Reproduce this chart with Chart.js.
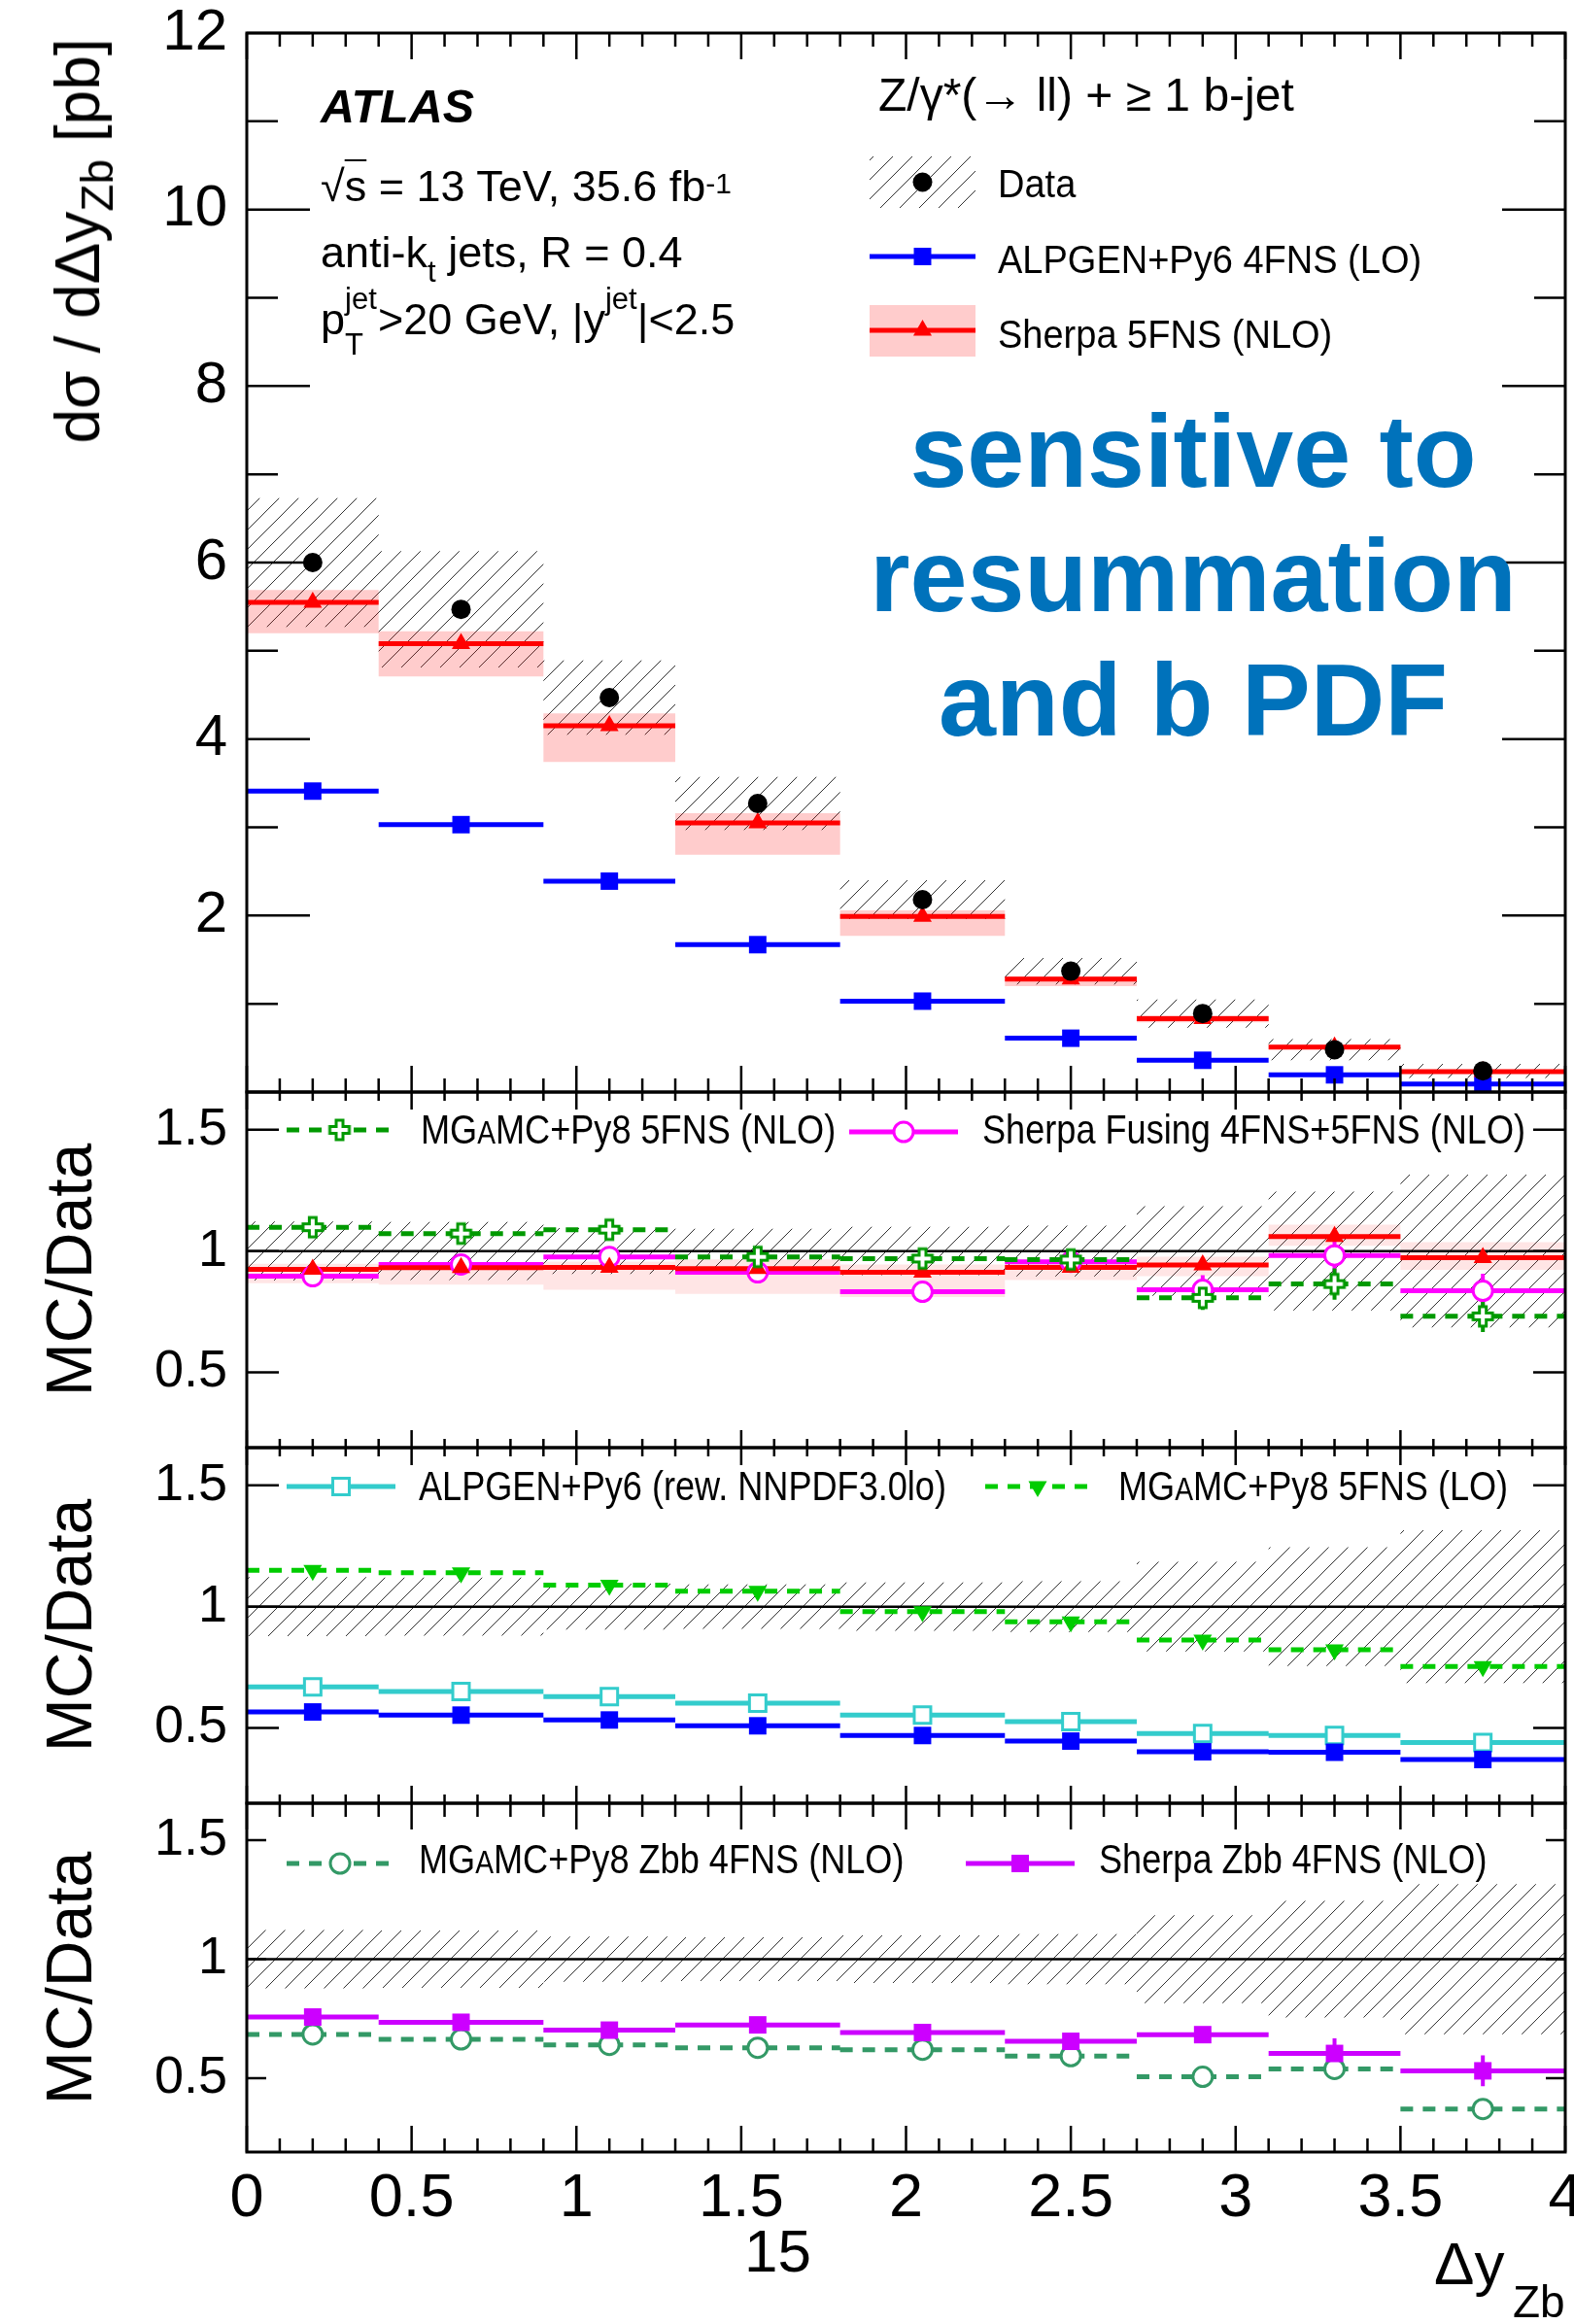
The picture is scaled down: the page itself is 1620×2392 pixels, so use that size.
<!DOCTYPE html>
<html>
<head>
<meta charset="utf-8">
<title>Z/γ* + ≥1 b-jet: dσ/dΔy(Z,b)</title>
<script src="https://cdn.jsdelivr.net/npm/chart.js@4.4.1/dist/chart.umd.min.js"></script>
<style>
  html, body { margin:0; padding:0; background:#fff; overflow:hidden; }
  #page { position:relative; width:1620px; height:2392px; overflow:hidden; background:#fff;
          font-family:"Liberation Sans", Arial, Helvetica, sans-serif; }
  #page canvas { position:absolute; left:0; top:0; }
  .t { position:absolute; white-space:nowrap; line-height:1; color:#000; z-index:5; }
</style>
</head>
<body>
<div id="page">
  <canvas id="pMain" width="1660" height="2392"></canvas>
  <canvas id="pR1" width="1660" height="2392"></canvas>
  <canvas id="pR2" width="1660" height="2392"></canvas>
  <canvas id="pR3" width="1660" height="2392"></canvas>
</div>
<script>
// ---------------- data ----------------
// Δy(Z,b) bin edges
const binEdges = [0, 0.4, 0.9, 1.3, 1.8, 2.3, 2.7, 3.1, 3.5, 4.0];
const xTickValues = [0, 0.5, 1, 1.5, 2, 2.5, 3, 3.5, 4];
const xTickLabels = ['0', '0.5', '1', '1.5', '2', '2.5', '3', '3.5', '4'];
const mainYTicks = [2, 4, 6, 8, 10, 12];
const ratioYTicks = [0.5, 1, 1.5];

// cross sections [pb]
const dataXsec     = [6.00, 5.47, 4.47, 3.27, 2.18, 1.37, 0.89, 0.48, 0.24];
const dataErr      = [0.73, 0.66, 0.42, 0.30, 0.22, 0.15, 0.16, 0.12, 0.08];
const alpgenXsec   = [3.41, 3.03, 2.39, 1.67, 1.03, 0.61, 0.36, 0.195, 0.09];
const sherpaXsec   = [5.55, 5.08, 4.15, 3.05, 1.99, 1.28, 0.83, 0.51, 0.23];
const sherpaXsecLo = [5.20, 4.71, 3.74, 2.69, 1.77, 1.20, 0.79, 0.49, 0.215];
const sherpaXsecHi = [5.69, 5.22, 4.29, 3.16, 2.06, 1.31, 0.87, 0.535, 0.245];

// relative data uncertainty (ratio panels)
const dataRelErr   = [0.122, 0.12, 0.095, 0.092, 0.10, 0.105, 0.185, 0.245, 0.315];

// MC / Data, panel 1
const sherpaRatio    = [0.925, 0.932, 0.933, 0.928, 0.912, 0.933, 0.943, 1.06, 0.973];
const sherpaRatioLo  = [0.867, 0.861, 0.84, 0.823, 0.81, 0.88, 0.896, 1.022, 0.923];
const sherpaRatioHi  = [0.948, 0.954, 0.957, 0.966, 0.945, 0.96, 0.977, 1.109, 1.037];
const mgNloRatio     = [1.098, 1.072, 1.088, 0.976, 0.969, 0.965, 0.807, 0.864, 0.731];
const mgNloRatioErr  = [0, 0, 0, 0, 0, 0, 0.05, 0.065, 0.065];
const fusingRatio    = [0.896, 0.945, 0.976, 0.912, 0.832, 0.956, 0.84, 0.982, 0.836];
const fusingRatioErr = [0, 0, 0.04, 0, 0, 0, 0.06, 0.08, 0.07];

// MC / Data, panel 2
const alpgenRewRatio = [0.669, 0.65, 0.629, 0.602, 0.553, 0.526, 0.477, 0.469, 0.44];
const mgLoRatio      = [1.15, 1.14, 1.089, 1.064, 0.98, 0.938, 0.862, 0.822, 0.753];
const alpgenRatio    = [0.566, 0.553, 0.533, 0.509, 0.469, 0.446, 0.402, 0.40, 0.37];

// MC / Data, panel 3
const mgZbbRatio     = [0.684, 0.663, 0.64, 0.628, 0.62, 0.593, 0.506, 0.539, 0.371];
const sherpaZbbRatio = [0.757, 0.735, 0.702, 0.724, 0.692, 0.655, 0.683, 0.604, 0.531];
const sherpaZbbErr   = [0, 0, 0, 0, 0, 0, 0, 0.063, 0.065];

// ---------------- helpers ----------------
const FONT = 'Liberation Sans';
Chart.defaults.font.family = FONT;
const W = 1660, H = 2392;
const X0 = 254, X1 = 1611;
const XAXIS_H = 70;

const centers = binEdges.slice(0, -1).map((e, i) => (e + binEdges[i + 1]) / 2);

// one horizontal segment per bin, unconnected
function segs(vals) {
  const pts = [];
  vals.forEach((v, i) => {
    pts.push({x: binEdges[i], y: v}, {x: binEdges[i + 1], y: v});
    if (i < vals.length - 1) pts.push({x: binEdges[i + 1], y: null});
  });
  return pts;
}
// contiguous step outline used for filled bands
function steps(vals) {
  const pts = [];
  vals.forEach((v, i) => pts.push({x: binEdges[i], y: v}, {x: binEdges[i + 1], y: v}));
  return pts;
}
function atCenters(vals) { return vals.map((v, i) => ({x: centers[i], y: v})); }
function vbars(vals, errs) {
  const pts = [];
  vals.forEach((v, i) => {
    if (errs[i] > 0) pts.push({x: centers[i], y: v - errs[i]}, {x: centers[i], y: v + errs[i]}, {x: centers[i], y: null});
  });
  return pts;
}

function makeHatch() {
  const c = document.createElement('canvas'); c.width = 20; c.height = 20;
  const g = c.getContext('2d');
  g.strokeStyle = '#333'; g.lineWidth = 1;
  [[-5, 25, 25, -5], [-5, 5, 5, -5], [15, 25, 25, 15]].forEach(([a, b, cc, d]) => {
    g.beginPath(); g.moveTo(a, b); g.lineTo(cc, d); g.stroke();
  });
  return g.createPattern(c, 'repeat');
}
function openCross(color) {
  const s = 20, a = 7, o = 3, m = (s - a) / 2;
  const c = document.createElement('canvas'); c.width = c.height = s + 2 * o;
  const g = c.getContext('2d');
  g.beginPath();
  g.moveTo(o + m, o); g.lineTo(o + m + a, o); g.lineTo(o + m + a, o + m); g.lineTo(o + s, o + m);
  g.lineTo(o + s, o + m + a); g.lineTo(o + m + a, o + m + a); g.lineTo(o + m + a, o + s); g.lineTo(o + m, o + s);
  g.lineTo(o + m, o + m + a); g.lineTo(o, o + m + a); g.lineTo(o, o + m); g.lineTo(o + m, o + m); g.closePath();
  g.fillStyle = '#fff'; g.fill(); g.strokeStyle = color; g.lineWidth = 3; g.stroke();
  return c;
}
const hatch = makeHatch();

// series styles
const S = {
  data:      {color:'#000', width:0, pointStyle:'circle', radius:10, pointBg:'#000', pointBorder:'#000', pointBW:0},
  alpgen:    {color:'#0000ff', width:5, pointStyle:'rect', radius:12.7, pointBg:'#0000ff', pointBorder:'#0000ff', pointBW:0},
  sherpa:    {color:'#ff0000', width:5, pointStyle:'triangle', radius:11, pointBg:'#ff0000', pointBorder:'#ff0000', pointBW:0},
  fusing:    {color:'#ff00ff', width:5, pointStyle:'circle', radius:10, pointBg:'#ffffff', pointBorder:'#ff00ff', pointBW:3},
  mgNlo:     {color:'#009900', width:5, dash:[13, 10], pointStyle:openCross('#009900'), radius:10, pointBg:'#fff', pointBorder:'#009900', pointBW:0},
  mgLo:      {color:'#00cc00', width:5, dash:[13, 10], pointStyle:'triangle', rotation:180, radius:11, pointBg:'#00cc00', pointBorder:'#00cc00', pointBW:0},
  alpRew:    {color:'#33cccc', width:5, pointStyle:'rect', radius:12, pointBg:'#ffffff', pointBorder:'#33cccc', pointBW:3},
  sherpaZbb: {color:'#cc00ff', width:5, pointStyle:'rect', radius:12.7, pointBg:'#cc00ff', pointBorder:'#cc00ff', pointBW:0},
  mgZbb:     {color:'#339966', width:5, dash:[13, 10], pointStyle:'circle', radius:10, pointBg:'#ffffff', pointBorder:'#339966', pointBW:3}
};

function lineDS(points, st, order, extra) {
  return Object.assign({
    data: points, borderColor: st.color, borderWidth: st.width, borderDash: st.dash || [],
    borderCapStyle: 'butt', pointRadius: 0, fill: false, spanGaps: false, tension: 0, order
  }, extra || {});
}
function markerDS(points, st, order) {
  return {
    data: points, showLine: false, pointStyle: st.pointStyle, pointRadius: st.radius,
    pointRotation: st.rotation || 0, pointBackgroundColor: st.pointBg,
    pointBorderColor: st.pointBorder, pointBorderWidth: st.pointBW, order
  };
}
function bandDS(upper, lower, bg, order) {
  return [
    {data: upper, borderWidth: 0, borderColor: 'rgba(0,0,0,0)', pointRadius: 0, fill: '+1', backgroundColor: bg, tension: 0, order},
    {data: lower, borderWidth: 0, borderColor: 'rgba(0,0,0,0)', pointRadius: 0, fill: false, tension: 0, order: order + 1}
  ];
}
function unityDS() {
  return {data: [{x: 0, y: 1}, {x: 4, y: 1}], borderColor: '#000', borderWidth: 2.5, pointRadius: 0, fill: false, order: 15};
}

function drawMarker(ctx, st, x, y) {
  ctx.save();
  ctx.fillStyle = st.pointBg; ctx.strokeStyle = st.pointBorder; ctx.lineWidth = st.pointBW || 1;
  Chart.helpers.drawPoint(ctx, {pointStyle: st.pointStyle, radius: st.radius, rotation: st.rotation || 0, borderWidth: st.pointBW}, x, y);
  ctx.restore();
}
function legendLine(ctx, st, x1, x2, y) {
  ctx.save();
  ctx.strokeStyle = st.color; ctx.lineWidth = st.width; ctx.setLineDash(st.dash || []);
  ctx.beginPath(); ctx.moveTo(x1, y); ctx.lineTo(x2, y); ctx.stroke();
  ctx.restore();
  drawMarker(ctx, st, (x1 + x2) / 2, y);
}

// frame, inward ticks on all four sides, plus legend symbols
function framePlugin(cfg) {
  return {
    id: 'frame_' + cfg.name,
    afterDatasetsDraw(chart) {
      const {ctx, chartArea: a, scales: {x, y}} = chart;
      ctx.save();
      ctx.strokeStyle = '#000'; ctx.lineWidth = 2.5; ctx.lineCap = 'butt'; ctx.setLineDash([]);
      ctx.beginPath();
      for (let k = 0; k <= 40; k++) {
        const px = x.getPixelForValue(k / 10);
        const L = (k % 5 === 0) ? cfg.xMaj : cfg.xMin;
        ctx.moveTo(px, a.top); ctx.lineTo(px, a.top + L);
        ctx.moveTo(px, a.bottom); ctx.lineTo(px, a.bottom - L);
      }
      const yt = (vals, L) => vals.forEach(v => {
        const py = y.getPixelForValue(v);
        ctx.moveTo(a.left, py); ctx.lineTo(a.left + L, py);
        ctx.moveTo(a.right, py); ctx.lineTo(a.right - L, py);
      });
      yt(cfg.yMajor, cfg.yMajLen);
      if (cfg.yMinor) yt(cfg.yMinor, cfg.yMinLen);
      ctx.stroke();
      ctx.lineWidth = 3;
      ctx.strokeRect(a.left, a.top, a.right - a.left, a.bottom - a.top);
      if (cfg.legend) cfg.legend(ctx);
      ctx.restore();
    }
  };
}

function panel(canvasId, top, bottom, yMin, yMax, yTicks, yLabelSize, datasets, cfg, showX) {
  const xScale = {
    type: 'linear', min: 0, max: 4, display: showX,
    grid: {display: false}, border: {display: false},
    afterBuildTicks: s => { s.ticks = xTickValues.map(v => ({value: v})); },
    ticks: {font: {family: FONT, size: 63}, color: '#000', padding: 3, maxRotation: 0, autoSkip: false,
            callback: (v, i) => xTickLabels[i]}
  };
  if (showX) xScale.afterFit = s => { s.height = XAXIS_H; s.paddingLeft = 0; s.paddingRight = 0; };
  return new Chart(document.getElementById(canvasId), {
    type: 'line',
    data: {datasets},
    options: {
      responsive: false, animation: false, events: [],
      layout: {padding: {top, bottom: H - bottom - (showX ? XAXIS_H : 0), left: 0, right: W - X1}},
      plugins: {legend: {display: false}, tooltip: {enabled: false}},
      scales: {
        x: xScale,
        y: {
          type: 'linear', min: yMin, max: yMax,
          grid: {display: false}, border: {display: false},
          afterBuildTicks: s => { s.ticks = yTicks.map(v => ({value: v})); },
          ticks: {font: {family: FONT, size: yLabelSize}, color: '#000', padding: 12, callback: v => String(v)},
          afterFit: s => { s.width = X0; s.paddingTop = 0; s.paddingBottom = 0; }
        }
      }
    },
    plugins: [framePlugin(cfg)]
  });
}

// ---------------- main panel: dσ/dΔy ----------------
panel('pMain', 34, 1124, 0, 12, mainYTicks, 60, [
  ...bandDS(steps(dataXsec.map((v, i) => v + dataErr[i])), steps(dataXsec.map((v, i) => v - dataErr[i])), hatch, 20),
  ...bandDS(steps(sherpaXsecHi), steps(sherpaXsecLo), 'rgba(255,0,0,0.2)', 17),
  lineDS(segs(alpgenXsec), S.alpgen, 6),
  lineDS(segs(sherpaXsec), S.sherpa, 5),
  markerDS(atCenters(alpgenXsec), S.alpgen, 3),
  markerDS(atCenters(sherpaXsec), S.sherpa, 2),
  markerDS(atCenters(dataXsec), S.data, 1)
], {
  name: 'main', xMaj: 27, xMin: 14, yMajor: [0, 2, 4, 6, 8, 10, 12], yMajLen: 65, yMinor: [1, 3, 5, 7, 9, 11], yMinLen: 32,
  legend: ctx => {
    ctx.fillStyle = hatch; ctx.fillRect(895, 161, 109, 53);
    drawMarker(ctx, S.data, 949.5, 187.5);
    legendLine(ctx, S.alpgen, 895, 1004, 264);
    ctx.fillStyle = 'rgba(255,0,0,0.2)'; ctx.fillRect(895, 314, 109, 53);
    legendLine(ctx, S.sherpa, 895, 1004, 340);
  }
}, false);

// ---------------- ratio panel 1 ----------------
const RMIN = 0.19, RMAX = 1.655;
panel('pR1', 1124, 1490, RMIN, RMAX, ratioYTicks, 54, [
  ...bandDS(steps(dataRelErr.map(e => 1 + e)), steps(dataRelErr.map(e => 1 - e)), hatch, 20),
  ...bandDS(steps(sherpaRatioHi), steps(sherpaRatioLo), 'rgba(255,0,0,0.1)', 17),
  unityDS(),
  lineDS(segs(fusingRatio), S.fusing, 9),
  lineDS(segs(sherpaRatio), S.sherpa, 8),
  lineDS(segs(mgNloRatio), S.mgNlo, 7),
  lineDS(vbars(fusingRatio, fusingRatioErr), Object.assign({}, S.fusing, {width: 4}), 6),
  lineDS(vbars(mgNloRatio, mgNloRatioErr), Object.assign({}, S.mgNlo, {width: 4}), 5),
  markerDS(atCenters(fusingRatio), S.fusing, 4),
  markerDS(atCenters(sherpaRatio), S.sherpa, 3),
  markerDS(atCenters(mgNloRatio), S.mgNlo, 2)
], {
  name: 'r1', xMaj: 18, xMin: 9, yMajor: [0.5, 1, 1.5], yMajLen: 33,
  legend: ctx => {
    legendLine(ctx, S.mgNlo, 295, 404, 1163);
    legendLine(ctx, S.fusing, 874, 986, 1165);
  }
}, false);

// ---------------- ratio panel 2 ----------------
panel('pR2', 1490, 1856, RMIN, RMAX, ratioYTicks, 54, [
  ...bandDS(steps(dataRelErr.map(e => 1 + e)), steps(dataRelErr.map(e => 1 - e)), hatch, 20),
  unityDS(),
  lineDS(segs(mgLoRatio), S.mgLo, 9),
  lineDS(segs(alpgenRewRatio), S.alpRew, 8),
  lineDS(segs(alpgenRatio), S.alpgen, 7),
  markerDS(atCenters(mgLoRatio), S.mgLo, 4),
  markerDS(atCenters(alpgenRewRatio), S.alpRew, 3),
  markerDS(atCenters(alpgenRatio), S.alpgen, 2)
], {
  name: 'r2', xMaj: 18, xMin: 9, yMajor: [0.5, 1, 1.5], yMajLen: 33,
  legend: ctx => {
    legendLine(ctx, S.alpRew, 295, 407, 1530);
    legendLine(ctx, S.mgLo, 1014, 1122, 1530);
  }
}, false);

// ---------------- ratio panel 3 ----------------
panel('pR3', 1856, 2215, RMIN, RMAX, ratioYTicks, 54, [
  ...bandDS(steps(dataRelErr.map(e => 1 + e)), steps(dataRelErr.map(e => 1 - e)), hatch, 20),
  unityDS(),
  lineDS(segs(mgZbbRatio), S.mgZbb, 9),
  lineDS(segs(sherpaZbbRatio), S.sherpaZbb, 8),
  lineDS(vbars(sherpaZbbRatio, sherpaZbbErr), Object.assign({}, S.sherpaZbb, {width: 4}), 6),
  markerDS(atCenters(mgZbbRatio), S.mgZbb, 4),
  markerDS(atCenters(sherpaZbbRatio), S.sherpaZbb, 3)
], {
  name: 'r3', xMaj: 27, xMin: 14, yMajor: [0.5, 1, 1.5], yMajLen: 20,
  legend: ctx => {
    legendLine(ctx, S.mgZbb, 295, 405, 1918);
    legendLine(ctx, S.sherpaZbb, 994, 1106, 1918);
  }
}, true);

// ---------------- text ----------------
const page = document.getElementById('page');
function txt(html, x, baseline, size, style) {
  const d = document.createElement('div');
  d.className = 't';
  d.innerHTML = html;
  d.style.left = x + 'px';
  d.style.top = (baseline - 0.8465 * size) + 'px';
  d.style.fontSize = size + 'px';
  if (style) Object.assign(d.style, style);
  page.appendChild(d);
  return d;
}
// shifted script: rise > 0 raises, < 0 lowers
const scr = (s, rise, fs, w) =>
  `<span style="display:inline-block;position:relative;top:${-rise}px;font-size:${fs}px;${w !== undefined ? 'width:' + w + 'px;' : ''}">${s}</span>`;
const cond = k => ({transform: `scaleX(${k})`, transformOrigin: '0 0'});
const MGA = 'MG<span style="font-size:0.78em">A</span>MC';

txt('<b><i>ATLAS</i></b>', 330, 126, 48.5);
txt('√<span style="text-decoration:overline;text-decoration-thickness:2px">s</span> = 13 TeV, 35.6 fb' + scr('-1', 8, 30), 330, 207, 45);
txt('anti-k' + scr('t', -15, 31) + ' jets, R = 0.4', 330, 275, 45);
txt('p' + scr('jet', 26, 31, 0) + scr('T', -21, 31, 34) + '&gt;20 GeV, |y' + scr('jet', 26, 31) + '|&lt;2.5', 330, 344, 45);

txt('Z/γ*(→ ll) + ≥ 1 b-jet', 904, 115, 48);
txt('Data', 1027, 203, 40, cond(0.95));
txt('ALPGEN+Py6 4FNS (LO)', 1027, 281, 40, cond(0.95));
txt('Sherpa 5FNS (NLO)', 1027, 358, 40, cond(0.95));

const blue = {fontWeight: 'bold', color: '#0072bb', width: '800px', textAlign: 'center'};
txt('sensitive to', 1228 - 400, 501, 106, blue);
txt('resummation', 1228 - 400, 629, 106, blue);
txt('and b PDF', 1228 - 400, 757, 106, blue);

txt(MGA + '+Py8 5FNS (NLO)', 433, 1178, 42, cond(0.86));
txt('Sherpa Fusing 4FNS+5FNS (NLO)', 1011, 1178, 42, cond(0.86));
txt('ALPGEN+Py6 (rew. NNPDF3.0lo)', 431, 1545, 42, cond(0.86));
txt(MGA + '+Py8 5FNS (LO)', 1151, 1545, 42, cond(0.86));
txt(MGA + '+Py8 Zbb 4FNS (NLO)', 431, 1929, 42, cond(0.86));
txt('Sherpa Zbb 4FNS (NLO)', 1131, 1929, 42, cond(0.86));

// axis titles
function vtitle(html, cx, cy, size) {
  const d = document.createElement('div');
  d.className = 't';
  d.innerHTML = html;
  d.style.fontSize = size + 'px';
  d.style.left = cx + 'px';
  d.style.top = cy + 'px';
  d.style.transform = 'translate(-50%,-50%) rotate(-90deg)';
  page.appendChild(d);
}
vtitle('dσ / dΔy' + scr('Zb', -14, 46) + ' [pb]', 102 - 0.3465 * 64, 248, 64);
vtitle('MC/Data', 94 - 0.3465 * 66, 1307, 66);
vtitle('MC/Data', 94 - 0.3465 * 66, 1673, 66);
vtitle('MC/Data', 94 - 0.3465 * 66, 2036, 66);

txt('Δy', 1476, 2351, 62);
txt('Zb', 1557, 2385, 46);
txt('15', 801 - 35, 2338, 62);
</script>
</body>
</html>
